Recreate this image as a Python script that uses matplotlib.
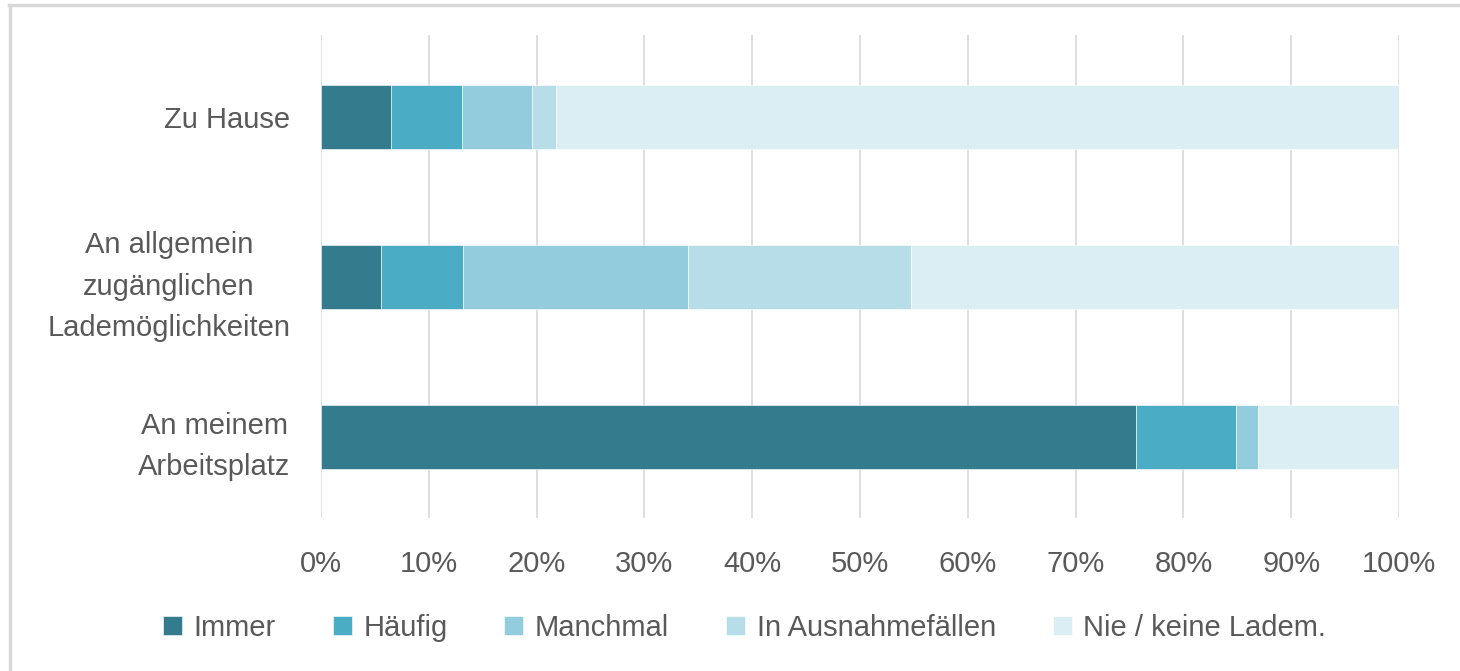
import matplotlib
matplotlib.use("Agg")
import matplotlib.pyplot as plt
from matplotlib.lines import Line2D
import numpy as np

categories = ["Zu Hause", "An allgemein\nzugänglichen\nLademöglichkeiten", "An meinem\nArbeitsplatz"]
series_names = ["Immer", "Häufig", "Manchmal", "In Ausnahmefällen", "Nie / keine Ladem."]
immer = [6.5, 5.6, 75.6]
haeufig = [6.6, 7.6, 9.3]
manchmal = [6.5, 20.8, 2.0]
ausnahme = [2.2, 20.7, 0.0]
nie = [78.2, 45.3, 13.1]
series_values = [immer, haeufig, manchmal, ausnahme, nie]
colors = ["#357B8E", "#4BACC6", "#93CDDD", "#B7DEE8", "#DAEEF3"]
xticks = [0, 10, 20, 30, 40, 50, 60, 70, 80, 90, 100]
xticklabels = [f"{v}%" for v in xticks]

plt.rcParams['font.family'] = ['Liberation Sans', 'DejaVu Sans']
text_color = "#595959"

fig = plt.figure(figsize=(14.6, 6.71), dpi=100)
ax = fig.add_axes([321/1460, 1-518/671, (1399-321)/1460, (518-35)/671])

y = np.arange(len(categories))
left = np.zeros(len(categories))
for name, vals, col in zip(series_names, series_values, colors):
    ax.barh(y, vals, left=left, height=0.4, color=col, label=name,
            edgecolor="white", linewidth=0.4, zorder=3)
    left += np.array(vals)

ax.set_xlim(0, 100)
ax.set_ylim(2.506, -0.5125)
ax.set_xticks(xticks)
ax.set_xticklabels(xticklabels)
ax.set_yticks(y)
ax.set_yticklabels(categories, multialignment='center', linespacing=1.6)
ax.tick_params(axis='both', length=0, labelsize=21, colors=text_color)
ax.tick_params(axis='x', pad=23)
ax.tick_params(axis='y', pad=22)
ax.grid(axis='x', color="#D9D9D9", linewidth=1.2, zorder=0)
for s in ax.spines.values():
    s.set_visible(False)

fig.legend(loc='center', bbox_to_anchor=(0.51, 1-628/671), ncol=5, frameon=False,
           fontsize=21, labelcolor=text_color, handlelength=0.65, handleheight=0.65,
           handletextpad=0.4, columnspacing=1.95)

fig.add_artist(Line2D([9/1460, 1], [1-5/671, 1-5/671], color="#D9D9D9", linewidth=2.5, transform=fig.transFigure))
fig.add_artist(Line2D([10/1460, 10/1460], [0, 1-5/671], color="#D9D9D9", linewidth=2.5, transform=fig.transFigure))

fig.savefig("out.png", dpi=100, facecolor="white")
